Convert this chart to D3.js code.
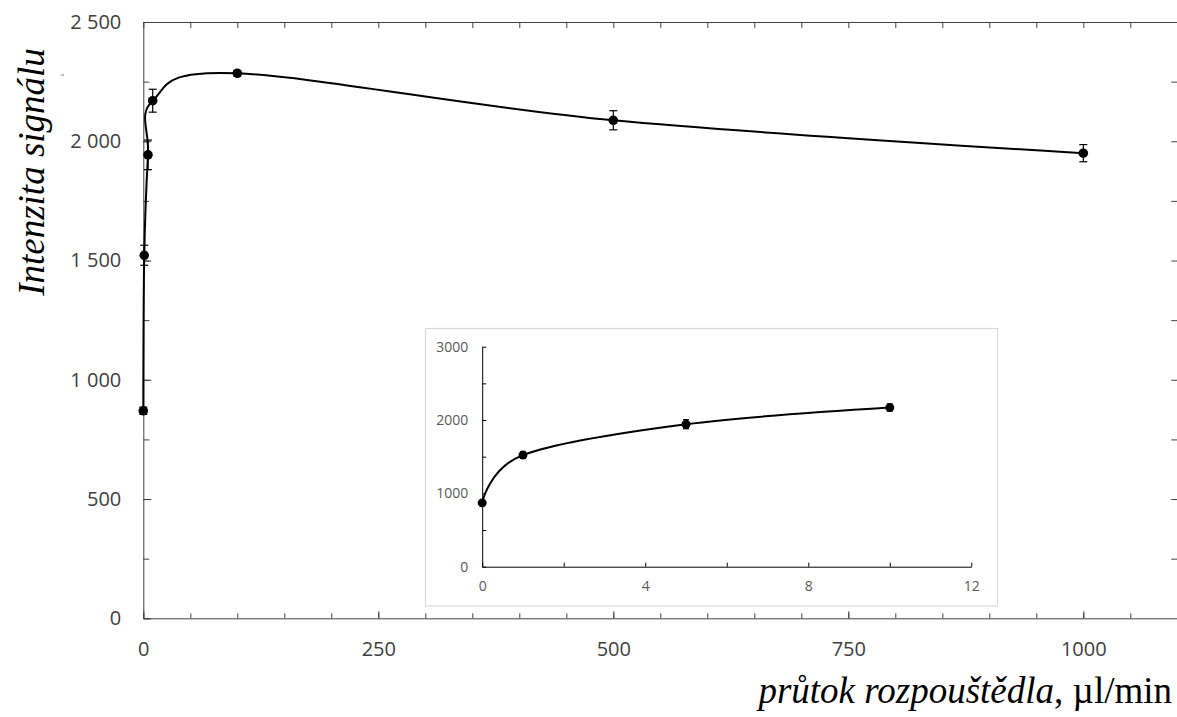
<!DOCTYPE html>
<html>
<head>
<meta charset="utf-8">
<script src="https://cdn.jsdelivr.net/npm/d3@7"></script>
<style>
  body { margin: 0; background: #fff; }
  svg { display: block; }
  .tick text { font-family: "Open Sans", sans-serif; }
</style>
</head>
<body>
<svg id="chart" width="1177" height="717"></svg>
<script>
// data
var flow = [0, 1, 5, 10, 100, 500, 1000];          // ul/min
var signal = [870, 1522, 1943, 2170, 2285, 2088, 1950];
var errors = [15, 42, 62, 48, 12, 40, 36];

var xTickLabels = [0, 250, 500, 750, 1000];
var yTickLabels = [0, 500, 1000, 1500, 2000, 2500];
var insetXLabels = [0, 4, 8, 12];
var insetYLabels = [0, 1000, 2000, 3000];
var INSET_MAX_FLOW = 10;

var AXIS_COLOR = "#404040";
var svg = d3.select("#chart");

var points = flow.map(function(f, i) {
    return { x: f, y: signal[i], e: errors[i] };
});

var spaceFmt = d3.formatLocale({ decimal: ",", thousands: " ", grouping: [3], currency: ["", ""] }).format(",d");

/**
 * MAIN CHART
 */
var xScale = d3.scaleLinear().domain([0, 1100]).range([143.3, 1177.3]);
var yScale = d3.scaleLinear().domain([0, 2500]).range([618.3, 22]);

// helper: call an axis and style it
function addAxis(axis, tx, ty, keepDomain, color) {
    var g = svg.append("g")
        .attr("transform", "translate(" + tx + "," + ty + ")")
        .call(axis);
    g.selectAll("line").attr("stroke", color || AXIS_COLOR);
    g.select(".domain").attr("stroke", color || AXIS_COLOR);
    if (!keepDomain) g.select(".domain").remove();
    return g;
}

// left axis line + inner ticks
addAxis(d3.axisRight(yScale).tickValues(d3.range(0, 2501, 250)).tickSize(6).tickSizeOuter(0).tickFormat(""), 143.3, 0, true);
addAxis(d3.axisRight(yScale).tickValues(yTickLabels).tickSize(8).tickFormat(""), 143.3, 0, false);
// left labels
addAxis(d3.axisLeft(yScale).tickValues(yTickLabels).tickSize(0).tickPadding(22).tickFormat(spaceFmt), 143.3, 0, false)
    .selectAll("text").attr("font-size", 20).attr("fill", AXIS_COLOR);

// right side ticks (mirror)
addAxis(d3.axisLeft(yScale).tickValues(d3.range(250, 2251, 250)).tickSize(6).tickFormat(""), 1177.3, 0, false);

// bottom axis
addAxis(d3.axisTop(xScale).tickValues(d3.range(0, 1101, 50)).tickSize(5).tickSizeOuter(0).tickFormat(""), 0, 618.3, true);
addAxis(d3.axisTop(xScale).tickValues(xTickLabels).tickSize(7).tickFormat(""), 0, 618.3, false);
addAxis(d3.axisBottom(xScale).tickValues(xTickLabels).tickSize(0).tickPadding(24).tickFormat(d3.format("d")), 0, 618.3, false)
    .selectAll("text").attr("font-size", 20).attr("fill", AXIS_COLOR);

// top axis
addAxis(d3.axisBottom(xScale).tickValues(d3.range(0, 1101, 50)).tickSize(6).tickSizeOuter(0).tickFormat(""), 0, 22, true);

// small stray mark left of the title
svg.append("line")
    .attr("x1", 61).attr("x2", 64).attr("y1", 75).attr("y2", 75)
    .attr("stroke", "#777").attr("stroke-width", 1);

// titles
svg.append("text")
    .attr("transform", "translate(44,172) rotate(-90)")
    .attr("text-anchor", "middle")
    .attr("font-family", "Liberation Serif, Times New Roman, serif")
    .attr("font-style", "italic")
    .attr("font-size", 37)
    .attr("fill", "#000")
    .text("Intenzita signálu");

var xTitle = svg.append("text")
    .attr("x", 1172).attr("y", 703)
    .attr("text-anchor", "end")
    .attr("font-family", "Liberation Serif, Times New Roman, serif")
    .attr("font-size", 37)
    .attr("fill", "#000");
xTitle.append("tspan").attr("font-style", "italic").text("průtok rozpouštědla");
xTitle.append("tspan").text(", µl/min");

// curve, error bars, markers
function drawSeries(g, data, xs, ys, r, lw, cap) {
    var line = d3.line()
        .x(function(d) { return xs(d.x); })
        .y(function(d) { return ys(d.y); })
        .curve(d3.curveCardinal.tension(0));

    g.append("path")
        .attr("d", line(data))
        .attr("fill", "none")
        .attr("stroke", "#000")
        .attr("stroke-width", lw);

    var eb = g.selectAll(".err").data(data).enter().append("g").attr("class", "err");
    eb.append("line")
        .attr("x1", function(d) { return xs(d.x); })
        .attr("x2", function(d) { return xs(d.x); })
        .attr("y1", function(d) { return ys(d.y - d.e); })
        .attr("y2", function(d) { return ys(d.y + d.e); });
    eb.append("line")
        .attr("x1", function(d) { return xs(d.x) - cap; })
        .attr("x2", function(d) { return xs(d.x) + cap; })
        .attr("y1", function(d) { return ys(d.y - d.e); })
        .attr("y2", function(d) { return ys(d.y - d.e); });
    eb.append("line")
        .attr("x1", function(d) { return xs(d.x) - cap; })
        .attr("x2", function(d) { return xs(d.x) + cap; })
        .attr("y1", function(d) { return ys(d.y + d.e); })
        .attr("y2", function(d) { return ys(d.y + d.e); });
    eb.selectAll("line").attr("stroke", "#000").attr("stroke-width", 1.2);

    g.selectAll(".dot").data(data).enter().append("circle")
        .attr("class", "dot")
        .attr("cx", function(d) { return xs(d.x); })
        .attr("cy", function(d) { return ys(d.y); })
        .attr("r", r)
        .attr("fill", "#000");
}

drawSeries(svg.append("g"), points, xScale, yScale, 4.8, 2, 4);

/**
 * INSET
 */
svg.append("rect")
    .attr("x", 425.5).attr("y", 328.5)
    .attr("width", 572).attr("height", 277.5)
    .attr("fill", "#fff")
    .attr("stroke", "#d9d9d9")
    .attr("stroke-width", 1.2);

var xInset = d3.scaleLinear().domain([0, 12]).range([482.2, 971.3]);
var yInset = d3.scaleLinear().domain([0, 3000]).range([566.7, 346.7]);
var INSET_COLOR = "#595959";

addAxis(d3.axisRight(yInset).tickValues(d3.range(0, 3001, 500)).tickSize(4).tickSizeOuter(0).tickFormat(""), 482.2, 0, true, "#000");
addAxis(d3.axisLeft(yInset).tickValues(insetYLabels).tickSize(0).tickPadding(14).tickFormat(d3.format("d")), 482.2, 0, false)
    .selectAll("text").attr("font-size", 14).attr("fill", INSET_COLOR);
addAxis(d3.axisTop(xInset).tickValues(d3.range(0, 13, 2)).tickSize(4).tickSizeOuter(0).tickFormat(""), 0, 566.7, true, "#000");
addAxis(d3.axisBottom(xInset).tickValues(insetXLabels).tickSize(0).tickPadding(14).tickFormat(d3.format("d")), 0, 566.7, false)
    .selectAll("text").attr("font-size", 14).attr("fill", INSET_COLOR);

var insetPoints = points.filter(function(d) { return d.x <= INSET_MAX_FLOW; });
drawSeries(svg.append("g"), insetPoints, xInset, yInset, 4.5, 2, 3);
</script>
</body>
</html>
